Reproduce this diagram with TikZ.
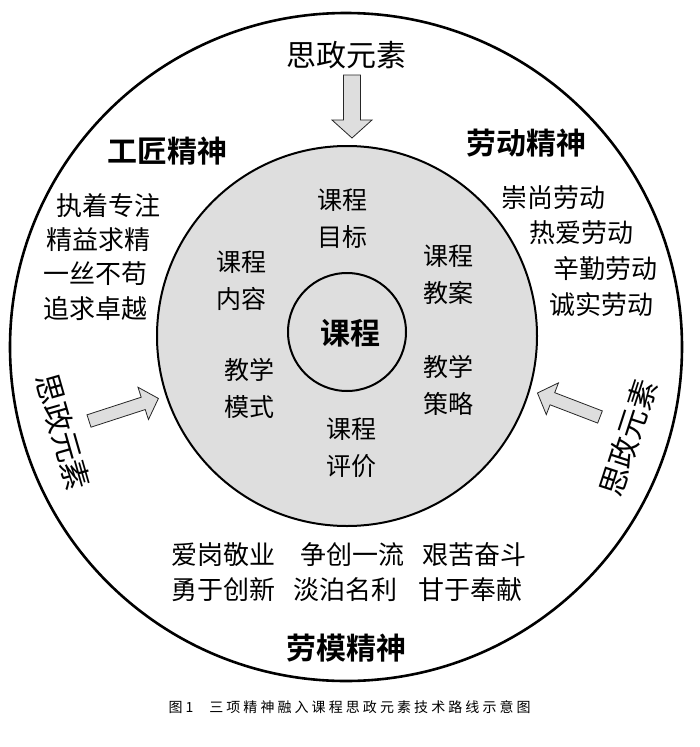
\documentclass[tikz,border=0pt]{standalone}
\usepackage{fontspec}
\setmainfont{Noto Sans CJK SC}[BoldFont={Noto Sans CJK SC Bold}]
\newfontfamily\capfont{Noto Sans CJK SC}[LetterSpace=22]
\begin{document}
\begin{tikzpicture}[x=1pt,y=-1pt,
  txt/.style={inner sep=0pt, align=center},
  title/.style={txt, font=\fontsize{30}{32}\selectfont\bfseries},
  item/.style={txt, font=\fontsize{26}{28}\selectfont},
  inner/.style={txt, font=\fontsize{25}{37}\selectfont},
  side/.style={txt, font=\fontsize{30}{32}\selectfont},
  arrowshape/.style={fill=black!13, draw=black!85, line width=0.8pt, line join=miter},
]
\useasboundingbox (0,0) rectangle (700,747);
% circles
\coordinate (oc) at (346,347);
\coordinate (ic) at (347,336);
\coordinate (cc) at (347,332);
\draw[line width=2.6pt] (oc) ellipse [x radius=336, y radius=334];
\draw[line width=2pt, fill=black!13] (ic) circle [radius=190];
\draw[line width=2pt] (cc) circle [radius=59];

% arrows
\draw[arrowshape, shift={(352,75)}, rotate=-90]
  (0,-8.5) -- (45,-8.5) -- (45,-20) -- (63,0) -- (45,20) -- (45,8.5) -- (0,8.5) -- cycle;
\draw[arrowshape, shift={(89,421)}, rotate=18]
  (0,-6.5) -- (57,-6.5) -- (57,-17) -- (73,0) -- (57,17) -- (57,6.5) -- (0,6.5) -- cycle;
\draw[arrowshape, shift={(600,417)}, rotate=159]
  (0,-6.5) -- (51,-6.5) -- (51,-17) -- (67,0) -- (51,17) -- (51,6.5) -- (0,6.5) -- cycle;

% outer texts
\node[side] (sztop) at (346,55) {思政元素};
\node[side, rotate=-74] (szleft) at (63,432) {思政元素};
\node[side, rotate=72] (szright) at (628,438) {思政元素};

\node[title] (gj) at (167,151) {工匠精神};
\node[title] (ld) at (526,143) {劳动精神};
\node[title] (lm) at (346,648) {劳模精神};

\node[item] (l1) at (108,206) {执着专注};
\node[item] (l2) at (98,240) {精益求精};
\node[item] (l3) at (95,274) {一丝不苟};
\node[item] (l4) at (95,309) {追求卓越};

\node[item] (r1) at (553,198) {崇尚劳动};
\node[item] (r2) at (581,233) {热爱劳动};
\node[item] (r3) at (605,269) {辛勤劳动};
\node[item] (r4) at (601,305) {诚实劳动};

\node[item] (b1) at (223,555) {爱岗敬业};
\node[item] (b2) at (352,555) {争创一流};
\node[item] (b3) at (474,555) {艰苦奋斗};
\node[item] (b4) at (223,590) {勇于创新};
\node[item] (b5) at (345,590) {淡泊名利};
\node[item] (b6) at (470,590) {甘于奉献};

% inner texts
\node[inner] (mb) at (342,219) {课程\\目标};
\node[inner] (nr) at (241,281) {课程\\内容};
\node[inner] (ja) at (448,275) {课程\\教案};
\node[inner] (ms) at (249,388) {教学\\模式};
\node[inner] (cl) at (448,385) {教学\\策略};
\node[inner] (pj) at (351,448) {课程\\评价};
\node[title] (kc) at (350,333) {课程};

% caption
\node[txt, font=\fontsize{14}{16}\selectfont] (capn) at (181,707) {图 1};
\node[txt, font=\fontsize{14}{16}\capfont] (cap) at (370,707) {三项精神融入课程思政元素技术路线示意图};
\end{tikzpicture}
\end{document}
